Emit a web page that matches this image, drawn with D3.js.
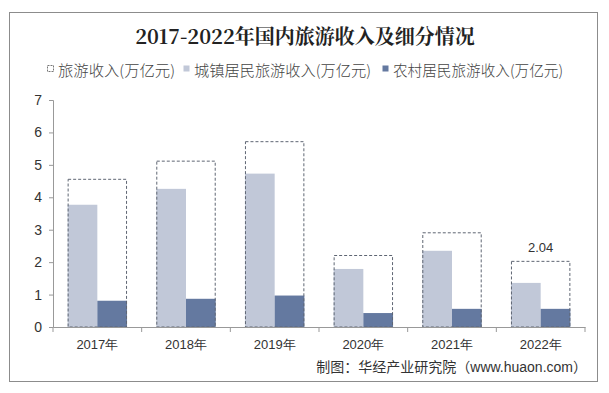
<!DOCTYPE html>
<html>
<head>
<meta charset="utf-8">
<script src="https://cdn.jsdelivr.net/npm/d3@7"></script>
<style>
	body { margin: 0; background: #fff; }
	svg { display: block; font-family: "Liberation Sans", Arial, "Noto Sans CJK SC", sans-serif; }
</style>
</head>
<body>
<div id="chart"></div>
<script>
var years = ["2017年", "2018年", "2019年", "2020年", "2021年", "2022年"];
var totalIncome = [4.57, 5.13, 5.73, 2.22, 2.92, 2.04];
var urbanIncome = [3.77, 4.26, 4.73, 1.79, 2.35, 1.36];
var ruralIncome = [0.81, 0.87, 0.97, 0.43, 0.56, 0.56];
var yTicks = [0, 1, 2, 3, 4, 5, 6, 7];
var seriesNames = ["旅游收入(万亿元)", "城镇居民旅游收入(万亿元)", "农村居民旅游收入(万亿元)"];
var labelIndex = 5; // only the last total bar is labelled

var svgWidth = 609;
var svgHeight = 393;
var lightColor = "#c1c8d8";
var darkColor = "#6479a0";

var svg = d3.select("#chart")
	.append("svg")
	.attr("width", svgWidth)
	.attr("height", svgHeight);

// outer frame
svg.append("rect")
	.attr("x", 9.5)
	.attr("y", 12.5)
	.attr("width", 588)
	.attr("height", 369)
	.attr("fill", "#fff")
	.attr("stroke", "#8c8c8c");

svg.append("text")
	.attr("x", 305)
	.attr("y", 44)
	.attr("text-anchor", "middle")
	.attr("font-family", "'Noto Serif CJK SC', 'Liberation Serif', 'DejaVu Serif', 'Noto Sans CJK SC', serif")
	.attr("font-weight", "bold")
	.attr("font-size", 20)
	.attr("fill", "#222")
	.text("2017-2022年国内旅游收入及细分情况");

// legend
var legendX = [47, 183, 382];
var legendW = [117, 177, 170];
var legend = svg.selectAll(".legend")
	.data(seriesNames)
	.enter()
	.append("g")
	.attr("class", "legend")
	.attr("transform", function(d, i){
		return "translate(" + [legendX[i], 70] + ")";
	});

legend.append("rect")
	.attr("x", 0.5)
	.attr("y", -4.5)
	.attr("width", 6)
	.attr("height", 6)
	.attr("fill", function(d, i){ return i == 0 ? "#fff" : (i == 1 ? lightColor : darkColor); })
	.attr("stroke", function(d, i){ return i == 0 ? "#777" : "none"; })
	.attr("stroke-dasharray", "2,1");

legend.append("text")
	.attr("x", 11)
	.attr("y", 6)
	.attr("font-size", 15)
	.attr("font-family", "'Noto Sans CJK SC', sans-serif")
	.attr("font-weight", 300)
	.attr("fill", "#444")
	.attr("textLength", function(d, i){ return legendW[i]; })
	.attr("lengthAdjust", "spacingAndGlyphs")
	.text(function(d){ return d; });

var x = d3.scaleBand()
	.domain(years)
	.range([53, 585])
	.paddingInner(0.33)
	.paddingOuter(0.165);

var y = d3.scaleLinear()
	.domain([0, 7])
	.range([327, 100]);

var half = x.bandwidth() / 2;

svg.selectAll(".urban")
	.data(urbanIncome)
	.enter()
	.append("rect")
	.attr("class", "urban")
	.attr("x", function(d, i){ return x(years[i]); })
	.attr("y", function(d){ return y(d); })
	.attr("width", half)
	.attr("height", function(d){ return y(0) - y(d); })
	.attr("fill", lightColor);

svg.selectAll(".rural")
	.data(ruralIncome)
	.enter()
	.append("rect")
	.attr("class", "rural")
	.attr("x", function(d, i){ return x(years[i]) + half; })
	.attr("y", function(d){ return y(d); })
	.attr("width", half)
	.attr("height", function(d){ return y(0) - y(d); })
	.attr("fill", darkColor);

svg.selectAll(".total")
	.data(totalIncome)
	.enter()
	.append("rect")
	.attr("class", "total")
	.attr("x", function(d, i){ return x(years[i]) + 0.5; })
	.attr("y", function(d){ return y(d) + 0.5; })
	.attr("width", x.bandwidth() - 1)
	.attr("height", function(d){ return y(0) - y(d) - 0.5; })
	.attr("fill", "none")
	.attr("stroke", "#5f6673")
	.attr("stroke-dasharray", "3,2");

svg.append("text")
	.attr("x", x(years[labelIndex]) + x.bandwidth() / 2)
	.attr("y", y(totalIncome[labelIndex]) - 9)
	.attr("text-anchor", "middle")
	.attr("font-size", 13)
	.attr("fill", "#333")
	.text(totalIncome[labelIndex].toFixed(2));

// axes
var yAxis = svg.append("g")
	.attr("transform", "translate(53,0)")
	.call(d3.axisLeft(y).tickValues(yTicks).tickSize(4).tickFormat(d3.format("d")));
yAxis.select(".domain").attr("stroke", "#999");
yAxis.selectAll(".tick line").attr("stroke", "#999");
yAxis.selectAll("text")
	.attr("font-size", 14)
	.attr("fill", "#333")
	.attr("x", -11);

var xAxis = svg.append("g")
	.attr("transform", "translate(0,327)")
	.call(d3.axisBottom(x).tickSize(0).tickSizeOuter(0));
xAxis.select(".domain").attr("stroke", "#999");
xAxis.selectAll("text")
	.attr("font-size", 13)
	.attr("fill", "#333")
	.attr("dy", "1.45em");

// tick marks between categories
svg.selectAll(".sep")
	.data(d3.range(years.length + 1))
	.enter()
	.append("line")
	.attr("class", "sep")
	.attr("x1", function(d){ return 53 + d * (532 / years.length); })
	.attr("x2", function(d){ return 53 + d * (532 / years.length); })
	.attr("y1", 327)
	.attr("y2", 332)
	.attr("stroke", "#999");

svg.append("text")
	.attr("x", 587)
	.attr("y", 372)
	.attr("text-anchor", "end")
	.attr("font-size", 14)
	.attr("fill", "#333")
	.text("制图：华经产业研究院（www.huaon.com）");
</script>
</body>
</html>
